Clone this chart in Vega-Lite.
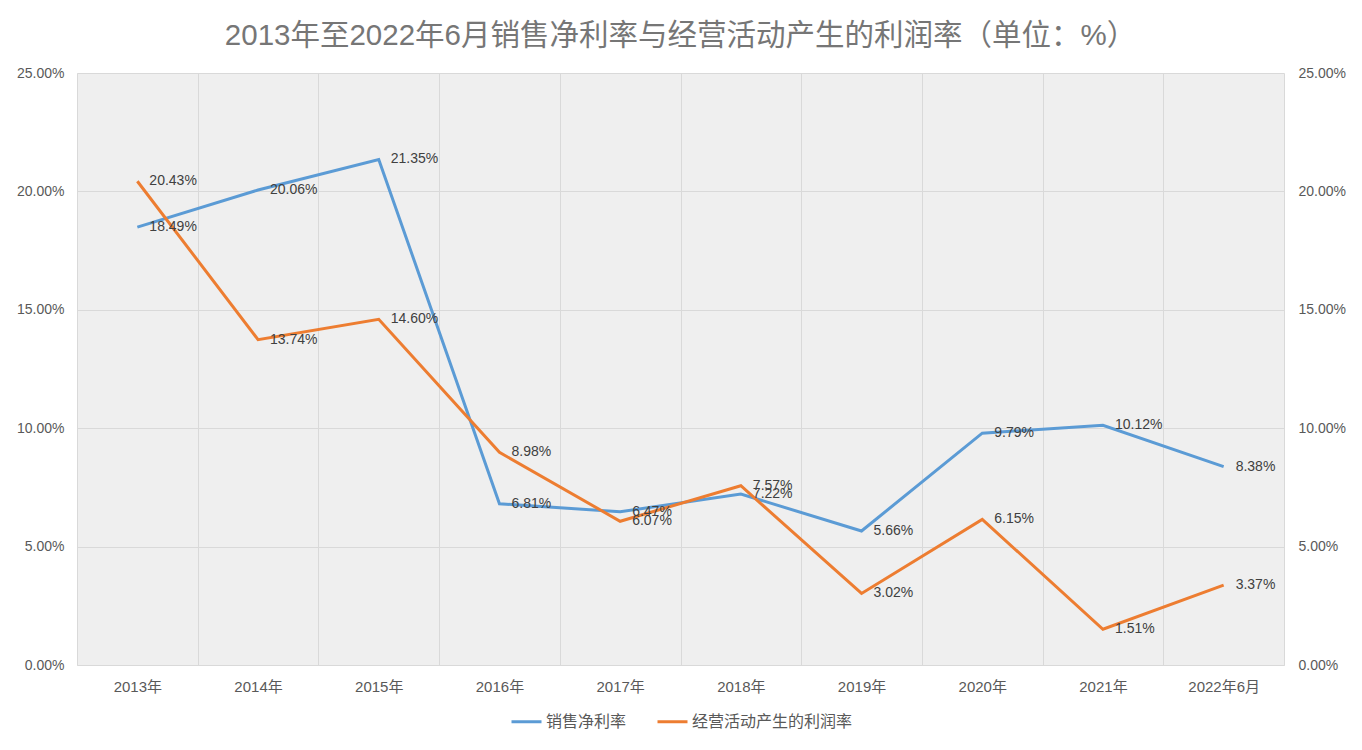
{
  "$schema": "https://vega.github.io/schema/vega-lite/v6.json",
  "width": 1207,
  "height": 592,
  "autosize": {"type": "none"},
  "padding": {"left": 77, "top": 73, "right": 78, "bottom": 85},
  "background": "white",
  "config": {
    "font": "Liberation Sans, Noto Sans CJK SC",
    "view": {"fill": "#efefef", "stroke": null}
  },
  "title": {
    "text": "2013年至2022年6月销售净利率与经营活动产生的利润率（单位：%）",
    "fontSize": 29.5,
    "fontWeight": "normal",
    "color": "#767676",
    "anchor": "middle",
    "frame": "group",
    "offset": 15
  },
  "data": {
    "values": [
      {"year": "2013年", "series": "销售净利率", "value": 0.1849},
      {"year": "2014年", "series": "销售净利率", "value": 0.2006},
      {"year": "2015年", "series": "销售净利率", "value": 0.2135},
      {"year": "2016年", "series": "销售净利率", "value": 0.0681},
      {"year": "2017年", "series": "销售净利率", "value": 0.0647},
      {"year": "2018年", "series": "销售净利率", "value": 0.0722},
      {"year": "2019年", "series": "销售净利率", "value": 0.0566},
      {"year": "2020年", "series": "销售净利率", "value": 0.0979},
      {"year": "2021年", "series": "销售净利率", "value": 0.1012},
      {"year": "2022年6月", "series": "销售净利率", "value": 0.0838},
      {"year": "2013年", "series": "经营活动产生的利润率", "value": 0.2043},
      {"year": "2014年", "series": "经营活动产生的利润率", "value": 0.1374},
      {"year": "2015年", "series": "经营活动产生的利润率", "value": 0.146},
      {"year": "2016年", "series": "经营活动产生的利润率", "value": 0.0898},
      {"year": "2017年", "series": "经营活动产生的利润率", "value": 0.0607},
      {"year": "2018年", "series": "经营活动产生的利润率", "value": 0.0757},
      {"year": "2019年", "series": "经营活动产生的利润率", "value": 0.0302},
      {"year": "2020年", "series": "经营活动产生的利润率", "value": 0.0615},
      {"year": "2021年", "series": "经营活动产生的利润率", "value": 0.0151},
      {"year": "2022年6月", "series": "经营活动产生的利润率", "value": 0.0337}
    ]
  },
  "encoding": {
    "x": {
      "field": "year",
      "type": "nominal",
      "sort": null,
      "scale": {"paddingInner": 0, "paddingOuter": 0},
      "axis": {
        "title": null,
        "labelAngle": 0,
        "labelFontSize": 15,
        "labelColor": "#595959",
        "labelPadding": 14,
        "ticks": false,
        "domain": true,
        "domainColor": "#d9d9d9",
        "grid": true,
        "gridColor": "#d9d9d9",
        "tickBand": "extent"
      }
    }
  },
  "layer": [
    {
      "mark": {"type": "line", "strokeWidth": 3},
      "encoding": {
        "y": {
          "field": "value",
          "type": "quantitative",
          "scale": {"domain": [0, 0.25], "nice": false},
          "axis": {
            "title": null,
            "values": [0, 0.05, 0.1, 0.15, 0.2, 0.25],
            "format": ".2%",
            "labelFontSize": 14,
            "labelColor": "#595959",
            "labelPadding": 13,
            "domain": false,
            "ticks": false,
            "grid": true,
            "gridColor": "#d9d9d9"
          }
        },
        "color": {
          "field": "series",
          "type": "nominal",
          "sort": ["销售净利率", "经营活动产生的利润率"],
          "scale": {"domain": ["销售净利率", "经营活动产生的利润率"], "range": ["#5B9BD5", "#ED7D31"]},
          "legend": {
            "title": null,
            "orient": "none",
            "legendX": 433,
            "legendY": 632,
            "direction": "horizontal",
            "symbolType": "stroke",
            "symbolSize": 900,
            "symbolStrokeWidth": 3,
            "labelFontSize": 16,
            "labelColor": "#595959",
            "labelLimit": 400,
            "columnPadding": 24,
            "labelOffset": 3
          }
        }
      }
    },
    {
      "mark": {"type": "text", "align": "left", "baseline": "middle", "dx": 12, "fontSize": 14, "color": "#404040"},
      "encoding": {
        "y": {
          "field": "value",
          "type": "quantitative",
          "scale": {"domain": [0, 0.25], "nice": false},
          "axis": {
            "orient": "right",
            "title": null,
            "values": [0, 0.05, 0.1, 0.15, 0.2, 0.25],
            "format": ".2%",
            "labelFontSize": 14,
            "labelColor": "#595959",
            "labelPadding": 14,
            "domain": false,
            "ticks": false,
            "grid": false
          }
        },
        "text": {"field": "value", "type": "quantitative", "format": ".2%"},
        "detail": {"field": "series"}
      }
    }
  ],
  "resolve": {"axis": {"y": "independent"}}
}
